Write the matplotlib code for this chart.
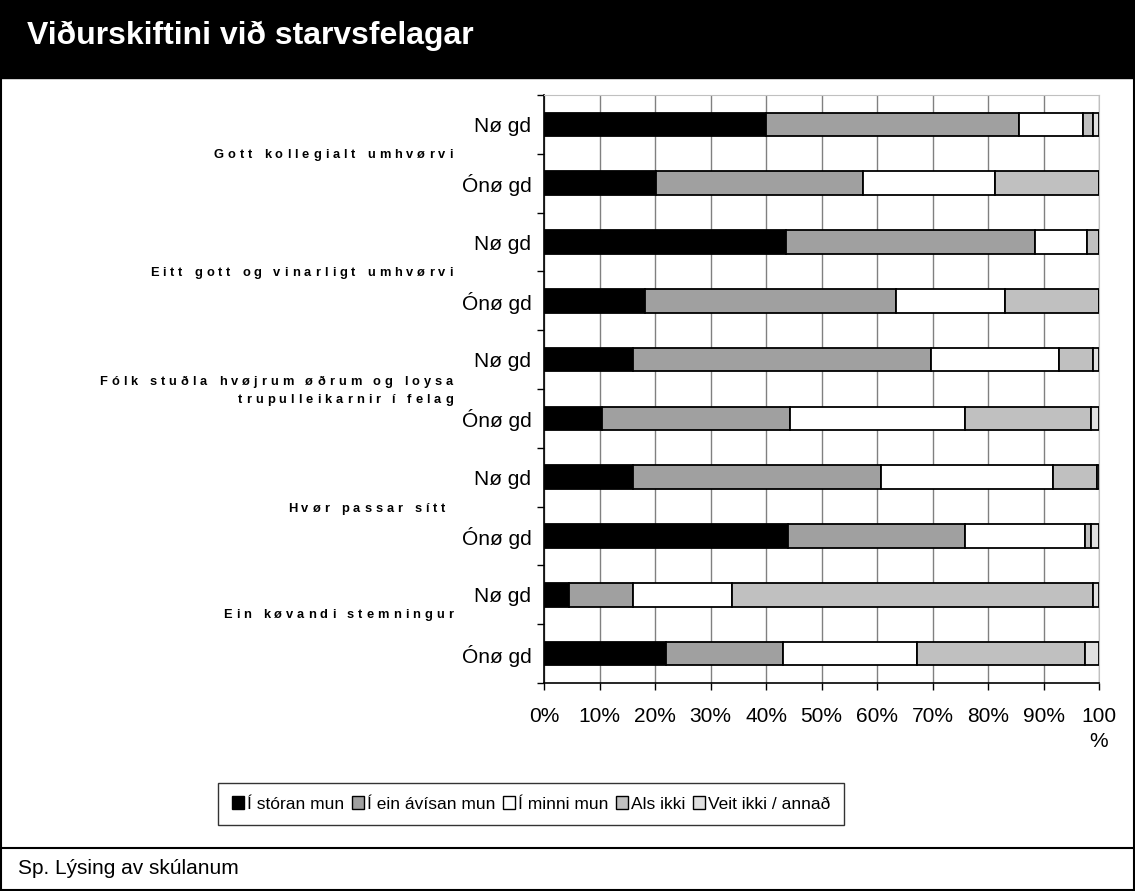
import matplotlib
matplotlib.use("Agg")
import matplotlib.pyplot as plt
from matplotlib import font_manager
from matplotlib.font_manager import FontProperties
from matplotlib.patches import Rectangle
from matplotlib.lines import Line2D

W, H, DPI = 1135, 891, 100
plt.rcParams['font.family'] = ['Liberation Sans', 'DejaVu Sans']

# rows top to bottom: (Nøgd, Ónøgd) for each statement
rows = ["Nø gd", "Ónø gd"] * 5
groups = ["Gott kollegialt umhvørvi",
          "Eitt gott og vinarligt umhvørvi",
          "Fólk stuðla hvøjrum øðrum og loysa\ntrupulleikarnir í felag",
          "Hvør passar sítt ",
          "Ein køvandi stemningur"]
series = ["Í stóran mun", "Í ein ávísan mun", "Í minni mun", "Als ikki", "Veit ikki / annað"]

storan = [40.0, 20.1, 43.6, 18.2, 16.1, 10.4, 16.1, 43.9, 4.5, 21.9]
avisan = [45.6, 37.3, 44.9, 45.3, 53.6, 34.0, 44.6, 32.0, 11.5, 21.1]
minni = [11.6, 23.9, 9.4, 19.6, 23.1, 31.5, 31.0, 21.6, 17.9, 24.2]
als_ikki = [1.7, 18.7, 2.1, 16.9, 6.1, 22.7, 8.0, 1.1, 65.1, 30.3]
veit_ikki = [1.1, 0.0, 0.0, 0.0, 1.1, 1.4, 0.3, 1.4, 1.0, 2.5]

colors = ["#000000", "#a0a0a0", "#ffffff", "#c0c0c0", "#e0e0e0"]
xticks = [0, 10, 20, 30, 40, 50, 60, 70, 80, 90, 100]
xlabels = ["0%", "10%", "20%", "30%", "40%", "50%", "60%", "70%", "80%", "90%", "100\n%"]

fig = plt.figure(figsize=(W / DPI, H / DPI), dpi=DPI)


def fx(px):
    return px / W


def fy(py):
    return 1 - py / H


# frame, title band and footer line
fig.patches.append(Rectangle((0, fy(78)), 1, fy(0) - fy(78), transform=fig.transFigure,
                             facecolor="black", edgecolor="black", zorder=0))
fig.patches.append(Rectangle((fx(1), fy(890)), fx(1133), fy(1) - fy(890), transform=fig.transFigure,
                             facecolor="none", edgecolor="black", lw=1.5, zorder=5))
fig.lines.append(Line2D([0, 1], [fy(848), fy(848)], transform=fig.transFigure, color="black", lw=1.5))
fig.text(fx(27), fy(36), "Viðurskiftini við starvsfelagar", color="white", fontsize=23,
         fontweight="bold", va="center", ha="left")
fig.text(fx(18), fy(869), "Sp. Lýsing av skúlanum", fontsize=15, va="center", ha="left")

ax = fig.add_axes([fx(544), fy(683), fx(1099) - fx(544), fy(95) - fy(683)])
y = list(range(len(rows)))
left = [0.0] * len(rows)
for vals, col, name in zip([storan, avisan, minni, als_ikki, veit_ikki], colors, series):
    ax.barh(y, vals, left=left, height=0.4, color=col, edgecolor="black", lw=1.3, label=name, zorder=3)
    left = [l + v for l, v in zip(left, vals)]

ax.set_xlim(0, 100)
ax.set_ylim(len(rows) - 0.5, -0.5)
ax.set_xticks(xticks)
ax.set_xticklabels(xlabels, fontsize=15, linespacing=1.45)
ax.set_yticks(y)
ax.set_yticklabels(rows, fontsize=15)
ax.set_yticks([i - 0.5 for i in range(len(rows) + 1)], minor=True)
ax.tick_params(axis="y", which="major", length=0, pad=9)
ax.tick_params(axis="y", which="minor", length=5, width=1, direction="out")
ax.tick_params(axis="x", length=5, width=1, direction="out", pad=12)
ax.grid(axis="x", color="#808080", lw=1, zorder=0)
ax.spines["top"].set_color("#c0c0c0")
ax.spines["right"].set_color("#c0c0c0")
ax.spines["left"].set_linewidth(1.2)
ax.spines["bottom"].set_linewidth(1.2)

# letter-spaced group captions
fp = FontProperties(family="Liberation Sans", weight="bold", size=9.3)
ft = font_manager.get_font(font_manager.findfont(fp))
ft.set_size(9.3, DPI)


def spaced(s, xr, yc, track=4.0):
    adv = [ft.load_char(ord(c)).linearHoriAdvance / 65536 + track for c in s]
    x = xr - sum(adv) + track
    for c, a in zip(s, adv):
        fig.text(fx(x), fy(yc), c, fontproperties=fp, va="center", ha="left")
        x += a


cap_y = [155, 273, 391, 509, 615]
for g, yc in zip(groups, cap_y):
    lines = g.split("\n")
    for k, line in enumerate(lines):
        spaced(line, 453, yc + (k - (len(lines) - 1) / 2) * 18)

leg = fig.legend(loc="center", bbox_to_anchor=(fx(531), fy(804)), ncol=5, fontsize=12.5,
                 frameon=True, fancybox=False, edgecolor="black", handlelength=0.7,
                 handleheight=0.7, handletextpad=0.15, columnspacing=0.45, borderpad=0.8,
                 borderaxespad=0)
leg.get_frame().set_linewidth(1)
for p in leg.get_patches():
    p.set_linewidth(1)

fig.savefig("out.png", dpi=DPI)
